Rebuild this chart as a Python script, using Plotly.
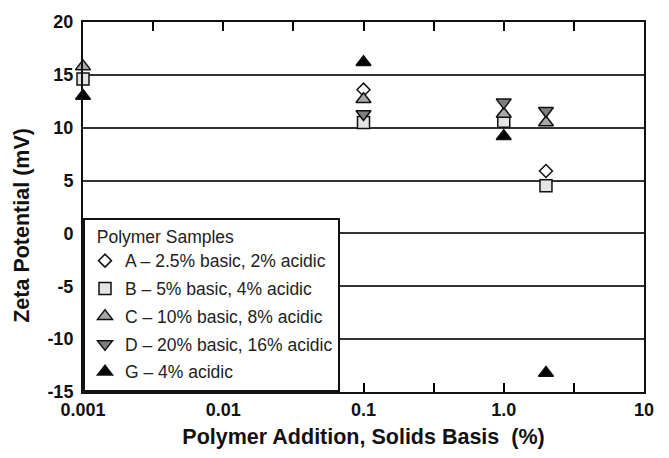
import plotly.graph_objects as go

# Data
names = ["A \u2013 2.5% basic, 2% acidic", "B \u2013 5% basic, 4% acidic",
         "C \u2013 10% basic, 8% acidic", "D \u2013 20% basic, 16% acidic", "G \u2013 4% acidic"]
a_x = [0.1, 2.0]
a_y = [13.6, 5.9]
b_x = [0.001, 0.1, 1.0, 2.0]
b_y = [14.6, 10.5, 10.6, 4.5]
c_x = [0.001, 0.1, 1.0, 2.0]
c_y = [15.8, 12.7, 11.3, 10.5]
d_x = [0.1, 1.0, 2.0]
d_y = [11.3, 12.4, 11.6]
g_x = [0.001, 0.1, 1.0, 2.0]
g_y = [13.0, 16.2, 9.2, -13.2]

x_tickvals = [0.001, 0.00316, 0.01, 0.0316, 0.1, 0.316, 1, 3.16, 10]
x_ticktext = ["0.001", "", "0.01", "", "0.1", "", "1.0", "", "10"]
y_tickvals = [-15, -10, -5, 0, 5, 10, 15, 20]
y_ticktext = ["-15", "-10", "-5", "0", "5", "10", "15", "20"]

series = [
    (a_x, a_y, "diamond", 10, "white"),
    (b_x, b_y, "square", 12, "#e4e4e4"),
    (c_x, c_y, "triangle-up", 13, "#a8a8a8"),
    (d_x, d_y, "triangle-down", 13, "#7f7f7f"),
    (g_x, g_y, "triangle-up", 13, "#000000"),
]

FONT = "Liberation Sans, Arial, sans-serif"

fig = go.Figure()
for i, (xs, ys, sym, sz, col) in enumerate(series):
    fig.add_trace(go.Scatter(
        x=xs, y=ys, mode="markers", name=names[i], legendgroup=f"g{i}",
        marker=dict(symbol=sym, size=sz, color=col, line=dict(color="#111", width=1.5)),
        cliponaxis=False,
    ))

fig.update_layout(
    width=669, height=458,
    margin=dict(l=83, r=25, t=14, b=66),
    plot_bgcolor="white", paper_bgcolor="white",
    font=dict(family=FONT, color="#111"),
    legend=dict(
        x=0, y=0, xanchor="left", yanchor="bottom",
        bgcolor="white", bordercolor="#111", borderwidth=2,
        font=dict(size=17.5, color="#222"),
        title=dict(text="\u00a0\u00a0Polymer Samples", font=dict(size=17.5, color="#222")),
        tracegroupgap=2,
    ),
    showlegend=True,
)
fig.update_xaxes(
    type="log", range=[-3, 1],
    tickmode="array", tickvals=x_tickvals, ticktext=x_ticktext,
    ticks="inside", ticklen=9, tickwidth=2, tickcolor="black",
    showline=True, linecolor="#111", linewidth=2, mirror="allticks",
    showgrid=False, zeroline=False,
    tickfont=dict(size=18, family=FONT, color="#111", weight="bold"),
    title=dict(text="<b>Polymer Addition, Solids Basis\u00a0\u00a0(%)</b>",
               font=dict(size=21.5, color="#111"), standoff=10),
)
fig.update_yaxes(
    range=[-15, 20], tickvals=y_tickvals, ticktext=y_ticktext,
    ticks="", showline=True, linecolor="#111", linewidth=2, mirror=True,
    showgrid=True, gridcolor="#333", gridwidth=1.5, zeroline=False,
    tickfont=dict(size=18, family=FONT, color="#111", weight="bold"),
    ticklabelstandoff=4,
)
fig.add_annotation(
    text="<b>Zeta Potential (mV)</b>", textangle=-90,
    xref="paper", yref="paper", x=-0.11, y=0.45,
    xanchor="center", yanchor="middle", showarrow=False,
    font=dict(size=21.5, color="#111", family=FONT),
)

fig.write_html("out.html")
